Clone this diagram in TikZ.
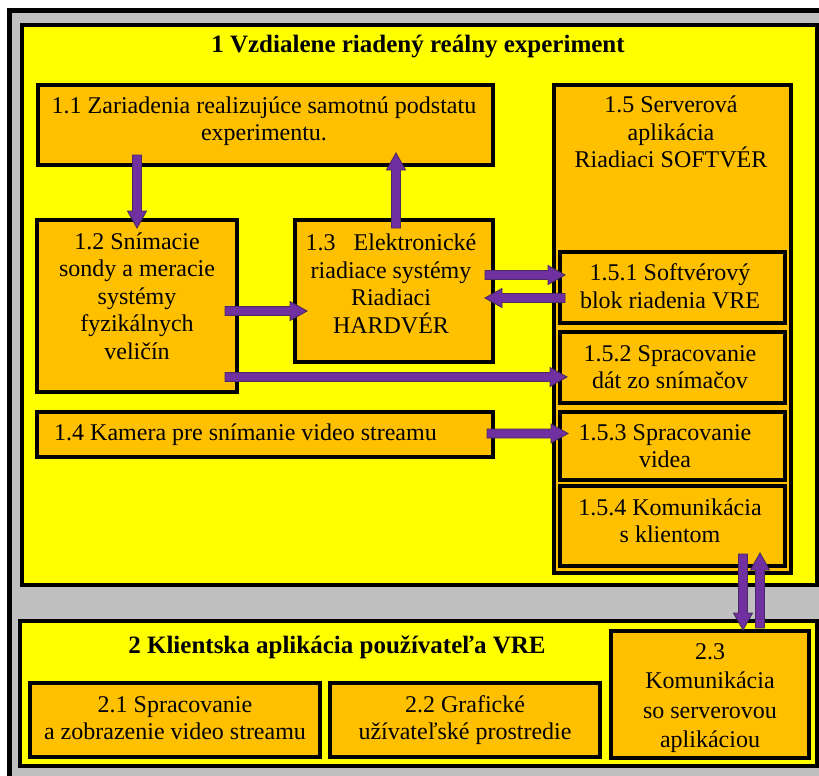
\documentclass[tikz,border=0pt]{standalone}
\usepackage{fontspec}
\setmainfont{Liberation Serif}
\usetikzlibrary{calc}
\definecolor{vyellow}{HTML}{FFFF00}
\definecolor{vorange}{HTML}{FFC000}
\definecolor{vgray}{HTML}{C0C0C0}
\definecolor{vpurple}{HTML}{7030A0}
\definecolor{vpline}{HTML}{4A2A63}
\def\faSW{4.5pt}
\def\faHW{9.5pt}
\def\faHL{17pt}
\newcommand\fatarrow[2]{%
  \draw[fatarrow] let \p1=(#1), \p2=(#2),
    \n1={veclen(\x2-\x1,\y2-\y1)},
    \n2={(\x2-\x1)/\n1}, \n3={(\y2-\y1)/\n1} in
    ({\x1-\faSW*\n3},{\y1+\faSW*\n2})
    -- ({\x2-\faHL*\n2-\faSW*\n3},{\y2-\faHL*\n3+\faSW*\n2})
    -- ({\x2-\faHL*\n2-\faHW*\n3},{\y2-\faHL*\n3+\faHW*\n2})
    -- (\p2)
    -- ({\x2-\faHL*\n2+\faHW*\n3},{\y2-\faHL*\n3-\faHW*\n2})
    -- ({\x2-\faHL*\n2+\faSW*\n3},{\y2-\faHL*\n3-\faSW*\n2})
    -- ({\x1+\faSW*\n3},{\y1-\faSW*\n2}) -- cycle;}
\begin{document}
\begin{tikzpicture}[x=1pt,y=-1pt,
  fatarrow/.style={fill=vpurple,draw=vpline,line width=0.9pt,line join=miter},
  bigbox/.style={draw=black,line width=4pt,fill=vyellow,inner sep=0pt,outer sep=0pt},
  box/.style={draw=black,line width=3.5pt,fill=vorange,inner sep=0pt,outer sep=0pt},
  txt/.style={inner sep=0pt,align=center,font=\fontsize{24}{27.5}\selectfont},
  ttl/.style={inner sep=0pt,align=center,font=\fontsize{25}{30}\selectfont\bfseries}]
\useasboundingbox (0,0) rectangle (819,776);
\fill[white] (0,0) rectangle (819,776);
\clip (0,0) rectangle (819,776);
\draw[draw=black,line width=5pt,fill=vgray] (9.5,10.5) rectangle (850,800);
% group 1
\node[bigbox,minimum width=795pt,minimum height=560pt] (b1) at (419.5,305) {};
\node[ttl] (t1) at (418,47) {1 Vzdialene riadený reálny experiment};
\node[box,minimum width=455pt,minimum height=80pt] (n11) at (265.5,125) {};
\node[txt] (t11) at (264,121) {1.1 Zariadenia realizujúce samotnú podstatu\\experimentu.};
\node[box,minimum width=200pt,minimum height=172pt] (n12) at (137,306) {};
\node[txt] (t12) at (137,296) {1.2 Snímacie\\sondy a meracie\\systémy\\fyzikálnych\\veličín};
\node[box,minimum width=198pt,minimum height=142pt] (n13) at (394,291) {};
\node[txt] (t13) at (391,284) {1.3\ \ \ Elektronické\\riadiace systémy\\Riadiaci\\HARDVÉR};
\node[box,minimum width=456pt,minimum height=45pt] (n14) at (265,434.5) {};
\node[txt,anchor=west] (t14) at (54,434.5) {1.4 Kamera pre snímanie video streamu};
\node[box,minimum width=237pt,minimum height=488pt] (n15) at (672.5,329) {};
\node[txt] (t15) at (671,132) {1.5 Serverová\\aplikácia\\Riadiaci SOFTVÉR};
\node[box,minimum width=225pt,minimum height=71pt] (n151) at (672.5,287.5) {};
\node[txt] (t151) at (670,286) {1.5.1 Softvérový\\blok riadenia VRE};
\node[box,minimum width=225pt,minimum height=71pt] (n152) at (672.5,367.5) {};
\node[txt] (t152) at (670,367) {1.5.2 Spracovanie\\dát zo snímačov};
\node[box,minimum width=225pt,minimum height=68pt] (n153) at (672.5,446) {};
\node[txt] (t153) at (665,446) {1.5.3 Spracovanie\\videa};
\node[box,minimum width=225pt,minimum height=80pt] (n154) at (672.5,526) {};
\node[txt] (t154) at (670,521) {1.5.4 Komunikácia\\s klientom};
% group 2
\node[bigbox,minimum width=797pt,minimum height=145pt] (b2) at (418.5,693.5) {};
\node[ttl] (t2) at (337,647) {2 Klientska aplikácia používateľa VRE};
\node[box,minimum width=290pt,minimum height=74pt] (n21) at (175,720) {};
\node[txt] (t21) at (175,718) {2.1 Spracovanie\\a zobrazenie video streamu};
\node[box,minimum width=270pt,minimum height=74pt] (n22) at (465,720) {};
\node[txt] (t22) at (465,720) {2.2 Grafické\\užívateľské prostredie};
\node[box,minimum width=198pt,minimum height=127pt] (n23) at (710,694.5) {};
\node[txt,font=\fontsize{24}{29.5}\selectfont] (t23) at (710,698) {2.3\\Komunikácia\\so serverovou\\aplikáciou};
% arrow end points
\coordinate (a1s) at ([yshift=10pt]n11.south -| n12.north);
\coordinate (a1e) at ([yshift=-8pt]n12.north);
\coordinate (a2s) at ([xshift=2pt,yshift=-8pt]n13.north);
\coordinate (a2e) at ([yshift=12pt]a2s |- n11.south);
\coordinate (a3s) at ([xshift=-12pt,yshift=-5pt]n12.east);
\coordinate (a3e) at ([xshift=12pt]n13.west |- a3s);
\coordinate (a4e) at ([xshift=7pt,yshift=-9.5pt]n152.west);
\coordinate (a4s) at ([xshift=-12pt]n12.east |- a4e);
\coordinate (a5s) at ([xshift=-8pt]n13.east |- 0,275);
\coordinate (a5e) at ([xshift=5pt]n151.west |- a5s);
\coordinate (a6s) at ([xshift=5pt]n151.west |- 0,298);
\coordinate (a6e) at ([xshift=-8pt]n13.east |- a6s);
\coordinate (a7s) at ([xshift=-6pt,yshift=1pt]n14.east);
\coordinate (a7e) at ([xshift=8pt]n153.west |- a7s);
\coordinate (a8s) at ([xshift=33pt]n23.north |- 0,554);
\coordinate (a8e) at ([xshift=33pt,yshift=1pt]n23.north);
\coordinate (a9s) at ([xshift=50pt,yshift=3pt]n23.north);
\coordinate (a9e) at ([yshift=13pt]a9s |- n154.south);
\fatarrow{a1s}{a1e}
\fatarrow{a2s}{a2e}
\fatarrow{a3s}{a3e}
\fatarrow{a4s}{a4e}
\fatarrow{a5s}{a5e}
\fatarrow{a6s}{a6e}
\fatarrow{a7s}{a7e}
\fatarrow{a8s}{a8e}
\fatarrow{a9s}{a9e}
\end{tikzpicture}
\end{document}
